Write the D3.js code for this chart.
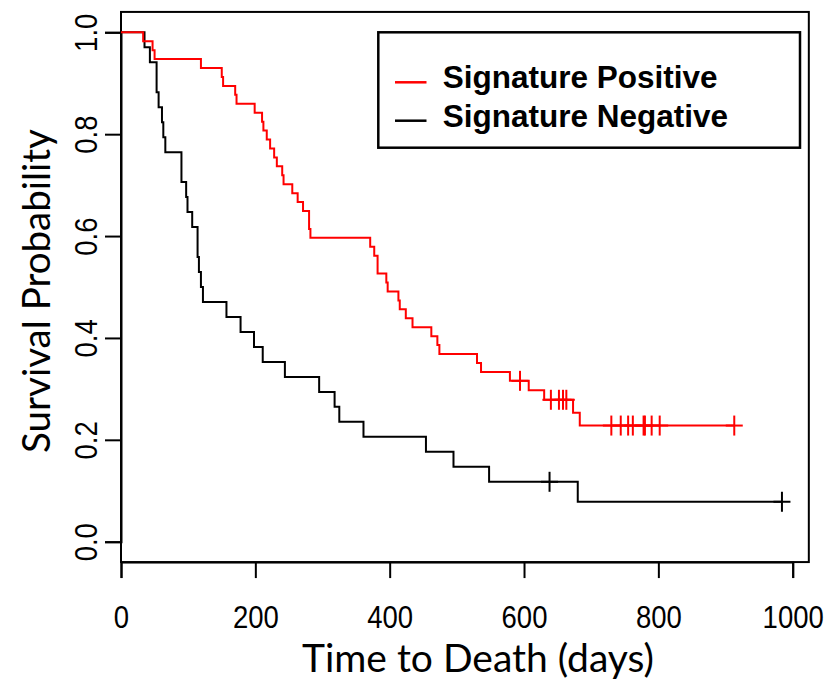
<!DOCTYPE html>
<html>
<head>
<meta charset="utf-8">
<script src="https://cdn.jsdelivr.net/npm/d3@7"></script>
<style>
  html, body { margin: 0; padding: 0; background: #fff; }
  svg { display: block; }
</style>
</head>
<body>
<svg id="chart" width="828" height="681"></svg>
<script>
// Kaplan–Meier step estimates for the two groups
const posTimes = [0, 33, 47, 50, 119, 150, 152, 170, 172, 199, 210, 212, 217, 222, 228, 232, 240, 242, 255, 263, 271, 280, 282, 371, 377, 382, 395, 397, 413, 415, 424, 434, 462, 471, 474, 530, 536, 579, 607, 630, 673, 683];
const posSurv  = [1.0, 0.9825, 0.9649, 0.9474, 0.9298, 0.9123, 0.8947, 0.8772, 0.8596, 0.8421, 0.8246, 0.8070, 0.7895, 0.7719, 0.7544, 0.7368, 0.7193, 0.7018, 0.6842, 0.6667, 0.6491, 0.6140, 0.5965, 0.5789, 0.5614, 0.5263, 0.5088, 0.4912, 0.4737, 0.4561, 0.4386, 0.4211, 0.4035, 0.3860, 0.3684, 0.3509, 0.3333, 0.3158, 0.2972, 0.2786, 0.2533, 0.2280];
const posCensor = [594, 640, 652, 658, 663, 730, 744, 755, 762, 778, 780, 790, 802, 913];

const negTimes = [0, 35, 43, 53, 56, 61, 63, 66, 90, 97, 99, 106, 114, 116, 119, 122, 157, 178, 198, 211, 244, 295, 318, 325, 361, 454, 495, 548, 680];
const negSurv  = [1.0, 0.9706, 0.9412, 0.8824, 0.8529, 0.8235, 0.7941, 0.7647, 0.7059, 0.6765, 0.6471, 0.6176, 0.5588, 0.5294, 0.5000, 0.4706, 0.4412, 0.4118, 0.3824, 0.3529, 0.3235, 0.2941, 0.2647, 0.2353, 0.2059, 0.1765, 0.1471, 0.1176, 0.0784];
const negCensor = [638, 984];

const groupNames  = ["Signature Positive", "Signature Negative"];
const groupColors = ["#ff0000", "#000000"];

const xTicks = [0, 200, 400, 600, 800, 1000];
const yTicks = [0, 0.2, 0.4, 0.6, 0.8, 1.0];

const svg = d3.select("#chart");

const x = d3.scaleLinear().domain([0, 1000]).range([121, 792.7]);
const y = d3.scaleLinear().domain([0, 1]).range([541.7, 32.3]);

// plotting region extends 4% past the data on each padded side
const xMaxUsr = 1024, yMinUsr = -0.04, yMaxUsr = 1.04;

// condensed tick-label face
const tickFont = "'Liberation Sans', Arial, sans-serif";
const tickSize = 32, tickSquash = 0.86;

// frame
svg.append("rect")
  .attr("x", x(0)).attr("y", y(yMaxUsr))
  .attr("width", x(xMaxUsr) - x(0))
  .attr("height", y(yMinUsr) - y(yMaxUsr))
  .attr("fill", "none").attr("stroke", "#000").attr("stroke-width", 2);

// x axis (drawn along the bottom of the frame)
const xAxis = d3.axisBottom(x).tickValues(xTicks).tickSize(16).tickFormat(d3.format("d"));
const gx = svg.append("g").attr("transform", `translate(0,${y(yMinUsr)})`).call(xAxis);
gx.select(".domain").attr("stroke-width", 2);
gx.selectAll(".tick line").attr("stroke-width", 2);
gx.selectAll(".tick text")
  .attr("font-family", tickFont)
  .attr("font-size", tickSize).attr("fill", "#000")
  .attr("y", null).attr("dy", null)
  .attr("transform", `translate(0,66) scale(${tickSquash},1)`);

// y axis (ticks outside the left edge, labels rotated)
const yAxis = d3.axisLeft(y).tickValues(yTicks).tickSize(16).tickFormat(d3.format(".1f"));
const gy = svg.append("g").attr("transform", `translate(${x(0)},0)`).call(yAxis);
gy.select(".domain").attr("stroke-width", 2);
gy.selectAll(".tick line").attr("stroke-width", 2);
gy.selectAll(".tick text")
  .attr("font-family", tickFont)
  .attr("font-size", tickSize).attr("fill", "#000")
  .attr("x", null).attr("dy", null)
  .attr("text-anchor", "middle")
  .attr("transform", `translate(-24,0) rotate(-90) scale(${tickSquash},1)`);

// survival curves
const stepLine = d3.line().x(d => x(d[0])).y(d => y(d[1])).curve(d3.curveStepAfter);

function survivalAt(times, surv, t) {
  const i = d3.bisectRight(times, t) - 1;
  return surv[Math.max(0, i)];
}

const groups = [
  { times: negTimes, surv: negSurv, censor: negCensor, color: groupColors[1] },
  { times: posTimes, surv: posSurv, censor: posCensor, color: groupColors[0] }
];

groups.forEach(g => {
  const end = d3.max(g.censor.concat(g.times));
  const pts = g.times.map((t, i) => [t, g.surv[i]]);
  pts.push([end, g.surv[g.surv.length - 1]]);
  svg.append("path").datum(pts)
    .attr("d", stepLine)
    .attr("fill", "none").attr("stroke", g.color).attr("stroke-width", 2);

  const marks = svg.append("g").attr("stroke", g.color).attr("stroke-width", 2);
  g.censor.forEach(t => {
    const cx = x(t), cy = y(survivalAt(g.times, g.surv, t));
    marks.append("line").attr("x1", cx - 8.5).attr("x2", cx + 8.5).attr("y1", cy).attr("y2", cy);
    marks.append("line").attr("x1", cx).attr("x2", cx).attr("y1", cy - 10).attr("y2", cy + 10);
  });
});

// axis titles
svg.append("text")
  .attr("transform", `translate(50,291) rotate(-90)`)
  .attr("text-anchor", "middle")
  .attr("font-family", "Lato, 'Open Sans', sans-serif")
  .attr("font-size", 38.5).attr("fill", "#000")
  .text("Survival Probability");

svg.append("text")
  .attr("x", 478).attr("y", 672)
  .attr("text-anchor", "middle")
  .attr("font-family", "Lato, 'Open Sans', sans-serif")
  .attr("font-size", 39).attr("fill", "#000")
  .text("Time to Death (days)");

// legend
const legend = svg.append("g");
legend.append("rect")
  .attr("x", 378.3).attr("y", 32.3).attr("width", 421.7).attr("height", 115.4)
  .attr("fill", "#fff").attr("stroke", "#000").attr("stroke-width", 2.5);
groupNames.forEach((name, i) => {
  const ly = 82.3 + i * 38.4;
  legend.append("line")
    .attr("x1", 395).attr("x2", 426.5).attr("y1", ly).attr("y2", ly)
    .attr("stroke", groupColors[i]).attr("stroke-width", 2.5);
  legend.append("text")
    .attr("x", 442.7).attr("y", ly + 6)
    .attr("font-family", "'Liberation Sans', Arial, sans-serif")
    .attr("font-weight", "bold").attr("font-size", 31.5).attr("fill", "#000")
    .text(name);
});
</script>
</body>
</html>
